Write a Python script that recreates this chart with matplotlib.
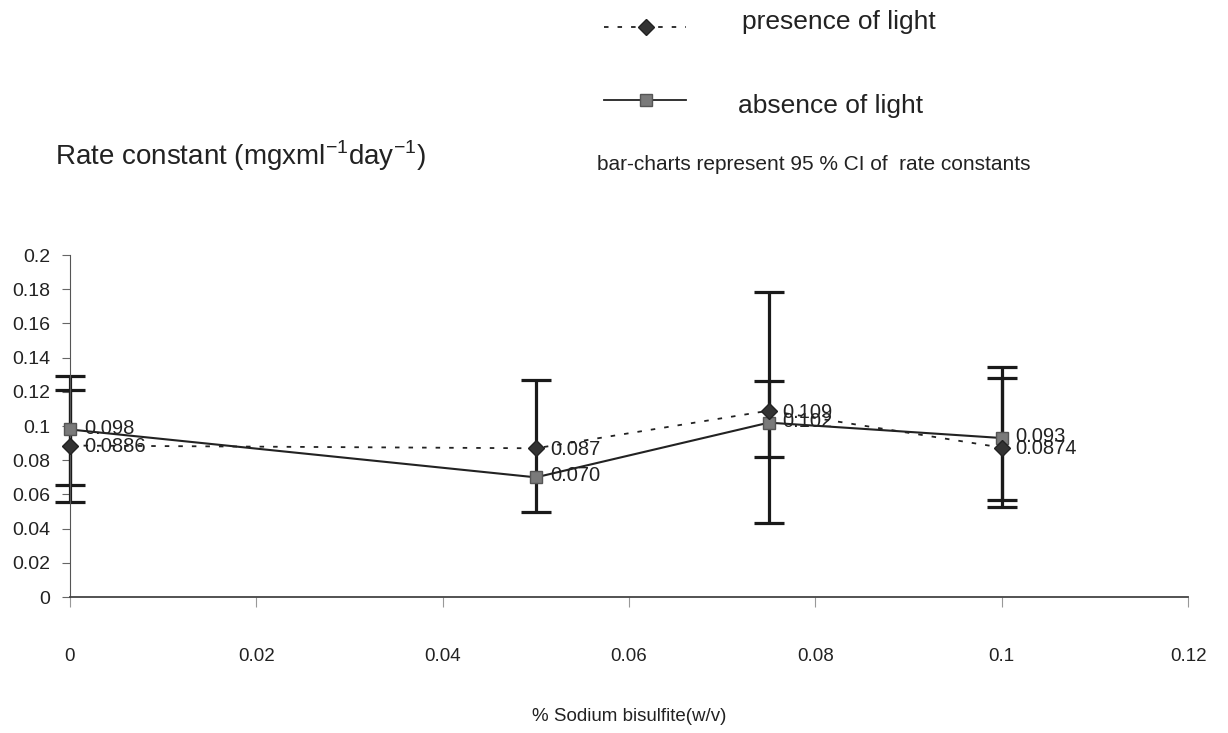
import numpy as np
import matplotlib
matplotlib.use("Agg")
import matplotlib.pyplot as plt
from matplotlib.lines import Line2D

plt.rcParams['font.family'] = ['Liberation Sans', 'DejaVu Sans']

# Sodium bisulfite concentration (% w/v)
conc = [0, 0.05, 0.075, 0.1]

# Rate constants with their 95 % confidence limits
presence = [0.0886, 0.087, 0.109, 0.0874]
presence_lo = [0.0554, 0.0499, 0.0435, 0.0528]
presence_hi = [0.1210, 0.1270, 0.1786, 0.1279]
presence_labels = ["0.0886", "0.087", "0.109", "0.0874"]

absence = [0.098, 0.070, 0.102, 0.093]
absence_lo = [0.0655, np.nan, 0.0817, 0.0567]
absence_hi = [0.1294, np.nan, 0.1263, 0.1347]
absence_labels = ["0.098", "0.070", "0.102", "0.093"]

x_ticks = [0, 0.02, 0.04, 0.06, 0.08, 0.1, 0.12]
x_ticklabels = ["0", "0.02", "0.04", "0.06", "0.08", "0.1", "0.12"]
y_ticks = [0, 0.02, 0.04, 0.06, 0.08, 0.1, 0.12, 0.14, 0.16, 0.18, 0.2]
y_ticklabels = ["0", "0.02", "0.04", "0.06", "0.08", "0.1", "0.12",
                "0.14", "0.16", "0.18", "0.2"]

fig = plt.figure(figsize=(12.28, 7.33), dpi=100)
ax = fig.add_axes([0.057, 0.1855, 0.9105, 0.4665])

ax.set_xlim(0, 0.12)
ax.set_ylim(0, 0.2)

# confidence-interval bars
for ys, los, his in ((presence, presence_lo, presence_hi),
                     (absence, absence_lo, absence_hi)):
    for xv, yv, lo, hi in zip(conc, ys, los, his):
        if np.isnan(lo):
            continue
        ax.errorbar([xv], [yv], yerr=[[yv - lo], [hi - yv]], fmt='none',
                    ecolor='#1a1a1a', elinewidth=2.3, capsize=11,
                    capthick=2.3, zorder=2, clip_on=False)

# series lines
ax.plot(conc, presence, linestyle=(0, (2.5, 5)), color='#222222', lw=1.3,
        marker='D', markersize=8, markerfacecolor='#333333',
        markeredgecolor='#222222', zorder=4, clip_on=False)
ax.plot(conc, absence, linestyle='-', color='#222222', lw=1.5,
        marker='s', markersize=9, markerfacecolor='#7a7a7a',
        markeredgecolor='#555555', zorder=3, clip_on=False)

# data labels
for xv, yv, t in zip(conc, presence, presence_labels):
    ax.annotate(t, (xv, yv), xytext=(10, -1), textcoords='offset points',
                ha='left', va='center', fontsize=14.5, color='#222222')
for xv, yv, t in zip(conc, absence, absence_labels):
    ax.annotate(t, (xv, yv), xytext=(10, 1), textcoords='offset points',
                ha='left', va='center', fontsize=14.5, color='#222222')

# axes styling
for side in ('top', 'right'):
    ax.spines[side].set_visible(False)
ax.spines['left'].set_color('#555555')
ax.spines['bottom'].set_color('#444444')
ax.spines['bottom'].set_linewidth(1.3)
ax.set_xticks(x_ticks)
ax.set_xticklabels(x_ticklabels)
ax.set_yticks(y_ticks)
ax.set_yticklabels(y_ticklabels)
ax.tick_params(axis='x', direction='out', length=7, pad=30, labelsize=13.5,
               color='#999999', labelcolor='#222222')
ax.tick_params(axis='y', direction='out', length=6, pad=8, labelsize=14,
               color='#666666', labelcolor='#222222')

# axis titles
fig.text(0.512, 0.022, "% Sodium bisulfite(w/v)", ha='center', va='center',
         fontsize=13.5, color='#222222')
fig.text(0.045, 0.787,
         r"Rate constant (mgxml$^{\mathregular{-1}}$day$^{\mathregular{-1}}$)",
         ha='left', va='center', fontsize=20, color='#222222')

# legend
fig.add_artist(Line2D([0.492, 0.559], [0.963, 0.963], transform=fig.transFigure,
                      linestyle=(0, (2.5, 5)), color='#222222', lw=1.3))
fig.add_artist(Line2D([0.526], [0.963], transform=fig.transFigure,
                      marker='D', markersize=8, markerfacecolor='#333333',
                      markeredgecolor='#222222', linestyle='none'))
fig.text(0.604, 0.970, "presence of light", ha='left', va='center',
         fontsize=19, color='#222222')

fig.add_artist(Line2D([0.492, 0.559], [0.863, 0.863], transform=fig.transFigure,
                      linestyle='-', color='#222222', lw=1.3))
fig.add_artist(Line2D([0.526], [0.863], transform=fig.transFigure,
                      marker='s', markersize=9, markerfacecolor='#7a7a7a',
                      markeredgecolor='#555555', linestyle='none'))
fig.text(0.601, 0.856, "absence of light", ha='left', va='center',
         fontsize=19, color='#222222')

fig.text(0.486, 0.775, "bar-charts represent 95 % CI of  rate constants",
         ha='left', va='center', fontsize=15, color='#222222')

fig.savefig("out.png", dpi=100, facecolor='white')
